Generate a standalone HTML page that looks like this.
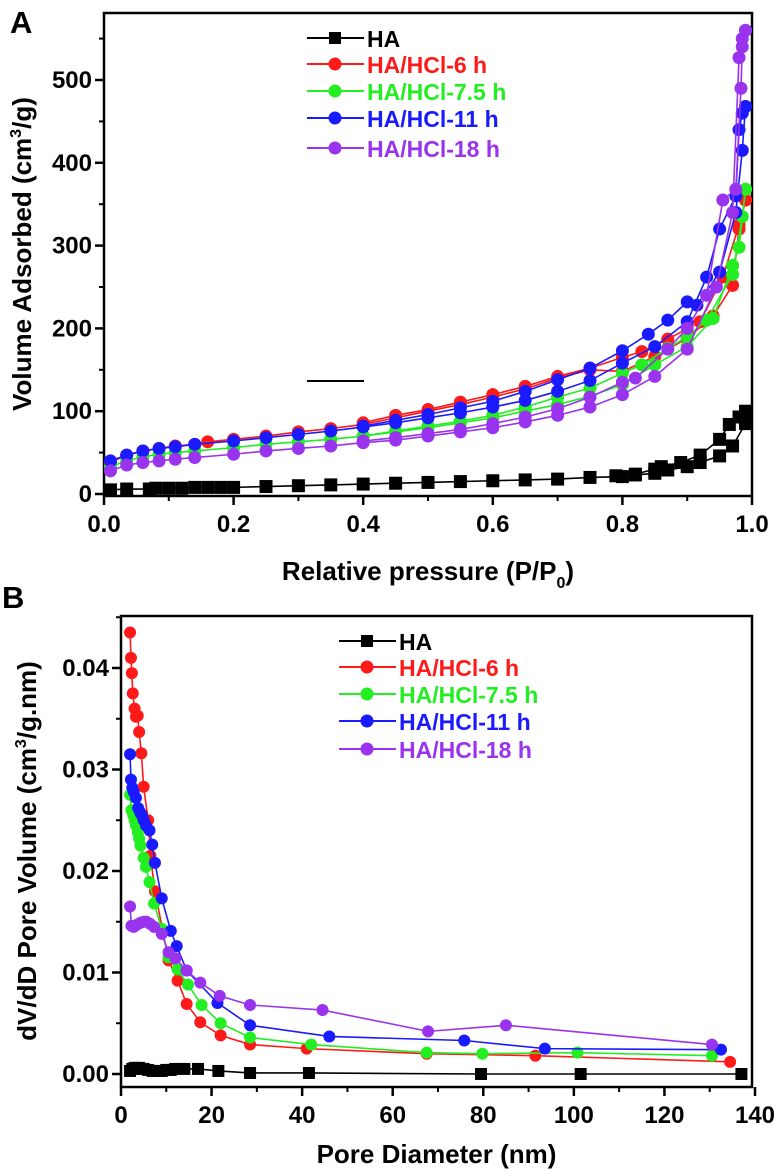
<!DOCTYPE html>
<html><head><meta charset="utf-8"><style>
html,body{margin:0;padding:0;background:#fff;}
svg{display:block;font-family:"Liberation Sans",Arial,sans-serif;font-weight:bold;}
</style></head><body>
<svg id="chart" width="774" height="1170" viewBox="0 0 774 1170" xmlns="http://www.w3.org/2000/svg">
<text x="10" y="33" font-size="31">A</text>
<text x="2" y="608" font-size="31">B</text>
<g id="pa"></g>
<g id="pb"></g>
</svg>
<script>
// ---- Panel A data ----
const aHAx=[0.01,0.035,0.07,0.08,0.1,0.12,0.14,0.16,0.18,0.2,0.25,0.3,0.35,0.4,0.45,0.5,0.55,0.6,0.65,0.7,0.75,0.8,0.82,0.85,0.87,0.9,0.92,0.95,0.97,0.99];
const aHAads=[5,6,6,7,7,7,8,8,8,8,9,10,11,12,13,14,15,16,17,18,20,21,23,25,29,33,38,46,58,85];
const aHAdesx=[0.99,0.98,0.965,0.95,0.92,0.89,0.86,0.85,0.82,0.79];
const aHAdes=[100,93,84,66,47,38,33,30,24,22];
const a6x=[0.01,0.035,0.06,0.085,0.11,0.14,0.16,0.2,0.25,0.3,0.35,0.4,0.45,0.5,0.55,0.6,0.65,0.7,0.75,0.8,0.85,0.9,0.94,0.97,0.98,0.99];
const a6ads=[38,47,52,55,58,60,63,66,70,75,79,84,92,100,108,117,127,140,150,148,166,188,215,252,320,355];
const a6desx=[0.99,0.98,0.955,0.92,0.87,0.83,0.8,0.75,0.7,0.65,0.6,0.55,0.5,0.45,0.4];
const a6des=[355,325,262,208,187,172,165,152,142,130,120,111,102,95,86];
const a75x=[0.01,0.035,0.06,0.085,0.11,0.14,0.2,0.25,0.3,0.35,0.4,0.45,0.5,0.55,0.6,0.65,0.7,0.75,0.8,0.85,0.9,0.94,0.97,0.98,0.99];
const a75ads=[33,40,45,48,50,52,56,60,63,66,70,75,80,86,92,100,108,118,132,156,178,212,276,298,368];
const a75desx=[0.99,0.985,0.97,0.93,0.9,0.87,0.83,0.8,0.75,0.7,0.65,0.6,0.55,0.5,0.45,0.4];
const a75des=[368,335,265,210,190,176,156,146,128,117,105,95,88,82,76,70];
const a11x=[0.01,0.035,0.06,0.085,0.11,0.14,0.2,0.25,0.3,0.35,0.4,0.45,0.5,0.55,0.6,0.65,0.7,0.75,0.8,0.85,0.9,0.93,0.95,0.975,0.98,0.985,0.99];
const a11ads=[40,47,52,55,57,60,64,68,72,76,81,86,92,98,105,113,124,137,158,178,208,262,320,360,440,460,468];
const a11desx=[0.99,0.985,0.975,0.95,0.915,0.9,0.87,0.84,0.8,0.75,0.7,0.65,0.6,0.55,0.5,0.45,0.4];
const a11des=[468,415,340,268,228,232,210,193,173,152,138,124,112,104,96,89,82];
const a18x=[0.01,0.035,0.06,0.085,0.11,0.14,0.2,0.25,0.3,0.35,0.4,0.45,0.5,0.55,0.6,0.65,0.7,0.75,0.8,0.85,0.9,0.945,0.97,0.98,0.985,0.99];
const a18ads=[28,35,38,40,42,44,48,52,55,58,62,65,70,75,80,87,95,105,120,142,175,250,340,527,550,560];
const a18desx=[0.99,0.985,0.983,0.975,0.955,0.93,0.9,0.87,0.82,0.8,0.75,0.7,0.65,0.6,0.55,0.5,0.45,0.4];
const a18des=[560,540,490,368,355,240,200,175,140,135,117,103,93,85,78,73,68,64];
const aXTicks=[0,0.2,0.4,0.6,0.8,1.0];
const aXTickLabels=["0.0","0.2","0.4","0.6","0.8","1.0"];
const aYTicks=[0,100,200,300,400,500];
const aYTickLabels=["0","100","200","300","400","500"];
// ---- Panel B data ----
const bHAx=[2,2.5,3,3.5,4,5,6,7,8,9,10,11,12,14,17,21.5,28.5,41.5,79.5,101.5,137];
const bHAy=[0.0003,0.0005,0.0006,0.0006,0.0006,0.0005,0.0004,0.0003,0.0003,0.0003,0.0004,0.0004,0.0005,0.0005,0.0005,0.0003,0.0001,0.0001,0,0,0];
const b6x=[2,2.2,2.4,2.6,3,3.3,3.7,4,4.5,5,6,6.5,7.5,10.5,12.5,14.5,17.5,22,28.5,41,67.5,91.5,134.5];
const b6y=[0.0435,0.041,0.0395,0.0375,0.036,0.0352,0.0353,0.0337,0.0316,0.0283,0.025,0.0215,0.018,0.0112,0.0092,0.0069,0.0051,0.0038,0.0029,0.0025,0.002,0.0018,0.0012];
const b75x=[2,2.3,2.7,3,3.3,3.7,4,4.3,5,5.5,6.3,7.3,9,10.5,12.5,14.8,17.8,22,28.5,42,67.5,79.8,100.8,130.5];
const b75y=[0.0275,0.026,0.0255,0.025,0.0245,0.0238,0.0232,0.0225,0.0213,0.0204,0.0189,0.0168,0.0143,0.0115,0.0103,0.0088,0.0068,0.005,0.0036,0.0029,0.0021,0.002,0.0021,0.0018];
const b11x=[2,2.2,2.5,2.8,3.3,3.8,4.2,4.6,5,5.5,6.3,6.9,7.5,9,11,12.3,14.5,21.3,28.5,46,75.8,93.6,132.5];
const b11y=[0.0315,0.029,0.0282,0.0278,0.0272,0.0262,0.0258,0.0255,0.025,0.0245,0.024,0.0226,0.0208,0.0173,0.0141,0.0126,0.0102,0.007,0.0048,0.0037,0.0033,0.0025,0.0024];
const b18x=[2,2.3,2.8,3.5,4.3,5,5.6,6.4,7.3,9,10.5,12,14.5,17.5,21.8,28.5,44.5,67.8,85,130.5];
const b18y=[0.0165,0.0146,0.0145,0.0147,0.0149,0.015,0.015,0.0148,0.0145,0.0138,0.012,0.0114,0.0102,0.009,0.0077,0.0068,0.0063,0.0042,0.0048,0.0029];
const bXTicks=[0,20,40,60,80,100,120,140];
const bXTickLabels=["0","20","40","60","80","100","120","140"];
const bYTicks=[0,0.01,0.02,0.03,0.04];
const bYTickLabels=["0.00","0.01","0.02","0.03","0.04"];
const legendLabels=["HA","HA/HCl-6 h","HA/HCl-7.5 h","HA/HCl-11 h","HA/HCl-18 h"];
const colors=["#000000","#ff1a1a","#22ee22","#1a1aff","#9933ee"];

const NS="http://www.w3.org/2000/svg";
function mk(parent,tag,attrs){const e=document.createElementNS(NS,tag);for(const k in attrs)e.setAttribute(k,attrs[k]);parent.appendChild(e);return e;}

function panel(g,cfg){
  const sx=v=>cfg.x0+(v-cfg.xmin)/(cfg.xmax-cfg.xmin)*(cfg.x1-cfg.x0);
  const sy=v=>cfg.y0-(v-cfg.ymin)/(cfg.ymax-cfg.ymin)*(cfg.y0-cfg.y1);
  const fr=mk(g,'rect',{x:cfg.fl,y:cfg.ft,width:cfg.fr-cfg.fl,height:cfg.fb-cfg.ft,fill:'none',stroke:'#000','stroke-width':2.5});
  
  cfg.xt.forEach((t,i)=>{
    const l=mk(g,'line',{x1:sx(t),x2:sx(t),y1:cfg.fb,y2:cfg.fb+9,stroke:'#000','stroke-width':2.5});
    
    const tx=mk(g,'text',{x:sx(t),y:cfg.fb+36,'font-size':cfg.fs,'text-anchor':'middle'});tx.textContent=cfg.xl[i];
    
    if(i<cfg.xt.length-1){const m=(t+cfg.xt[i+1])/2;
      const ml=mk(g,'line',{x1:sx(m),x2:sx(m),y1:cfg.fb,y2:cfg.fb+5,stroke:'#000','stroke-width':2});
      }
  });
  cfg.yt.forEach((t,i)=>{
    const l=mk(g,'line',{x1:cfg.fl-9,x2:cfg.fl,y1:sy(t),y2:sy(t),stroke:'#000','stroke-width':2.5});
    
    const tx=mk(g,'text',{x:cfg.fl-12,y:sy(t)+8,'font-size':cfg.fs,'text-anchor':'end'});tx.textContent=cfg.yl[i];
    
    const m=t+(cfg.yt[1]-cfg.yt[0])/2;
    if(sy(m)>cfg.ft){const ml=mk(g,'line',{x1:cfg.fl-5,x2:cfg.fl,y1:sy(m),y2:sy(m),stroke:'#000','stroke-width':2});
      }
  });
  cfg.series.forEach((s,si)=>{
    const c=colors[si];
    s.forEach(br=>{
      const pts=br[0].map((x,i)=>sx(x)+','+sy(br[1][i])).join(' ');
      const pl=mk(g,'polyline',{points:pts,fill:'none',stroke:c,'stroke-width':1.6});
      
      br[0].forEach((x,i)=>{
        let m;
        if(si===0){m=mk(g,'rect',{x:sx(x)-cfg.r,y:sy(br[1][i])-cfg.r,width:cfg.r*2,height:cfg.r*2,fill:c});}
        else{m=mk(g,'circle',{cx:sx(x),cy:sy(br[1][i]),r:cfg.r,fill:c});}
        
      });
    });
  });
  legendLabels.forEach((lab,i)=>{
    const y=cfg.ly[i],c=colors[i];
    const l=mk(g,'line',{x1:cfg.lx,x2:cfg.lx+57,y1:y,y2:y,stroke:c,'stroke-width':2});
    
    let m;
    if(i===0)m=mk(g,'rect',{x:cfg.lx+28-6,y:y-6,width:12,height:12,fill:c});
    else m=mk(g,'circle',{cx:cfg.lx+28,cy:y,r:6.5,fill:c});
    
    const t=mk(g,'text',{x:cfg.lx+60,y:y+9,'font-size':23,fill:c});t.textContent=lab;
    
  });
  const xt=mk(g,'text',{x:(cfg.fl+cfg.fr)/2,y:cfg.xty,'font-size':26,'text-anchor':'middle'});
  xt.innerHTML=cfg.xtitle;
  const yt=mk(g,'text',{x:0,y:0,'font-size':26,'text-anchor':'middle',transform:`translate(${cfg.ytx},${cfg.yty}) rotate(-90)`});
  yt.innerHTML=cfg.ytitle;
  return {sx,sy};
}
panel(document.getElementById('pa'),{
  xmin:0,xmax:1,ymin:0,ymax:500,x0:104,x1:752,y0:494,y1:80,fl:104,fr:752,ft:13,fb:496,
  xt:aXTicks,xl:aXTickLabels,yt:aYTicks,yl:aYTickLabels,fs:24,r:6.5,
  series:[[[aHAx,aHAads],[aHAdesx,aHAdes]],[[a6x,a6ads],[a6desx,a6des]],[[a75x,a75ads],[a75desx,a75des]],[[a11x,a11ads],[a11desx,a11des]],[[a18x,a18ads],[a18desx,a18des]]],
  lx:307,ly:[38,64,91,118,148],
  xtitle:'Relative pressure (P/P<tspan font-size="16" dy="8">0</tspan><tspan dy="-8">)</tspan>',xty:580,
  ytitle:'Volume Adsorbed (cm<tspan font-size="16" dy="-10">3</tspan><tspan dy="10">/g)</tspan>',ytx:31,yty:254
});
const al=mk(document.getElementById('pa'),'line',{x1:307,x2:364,y1:381,y2:381,stroke:'#000','stroke-width':2});

panel(document.getElementById('pb'),{
  xmin:0,xmax:140,ymin:0,ymax:0.04,x0:121,x1:755,y0:1074,y1:668,fl:121,fr:752,ft:616,fb:1087,
  xt:bXTicks,xl:bXTickLabels,yt:bYTicks,yl:bYTickLabels,fs:24,r:6,
  series:[[[bHAx,bHAy]],[[b6x,b6y]],[[b75x,b75y]],[[b11x,b11y]],[[b18x,b18y]]],
  lx:339,ly:[641,667,694,721,749],
  xtitle:'Pore Diameter (nm)',xty:1163,
  ytitle:'dV/dD Pore Volume (cm<tspan font-size="16" dy="-10">3</tspan><tspan dy="10">/g.nm)</tspan>',ytx:36,yty:851
});
</script>
</body></html>
